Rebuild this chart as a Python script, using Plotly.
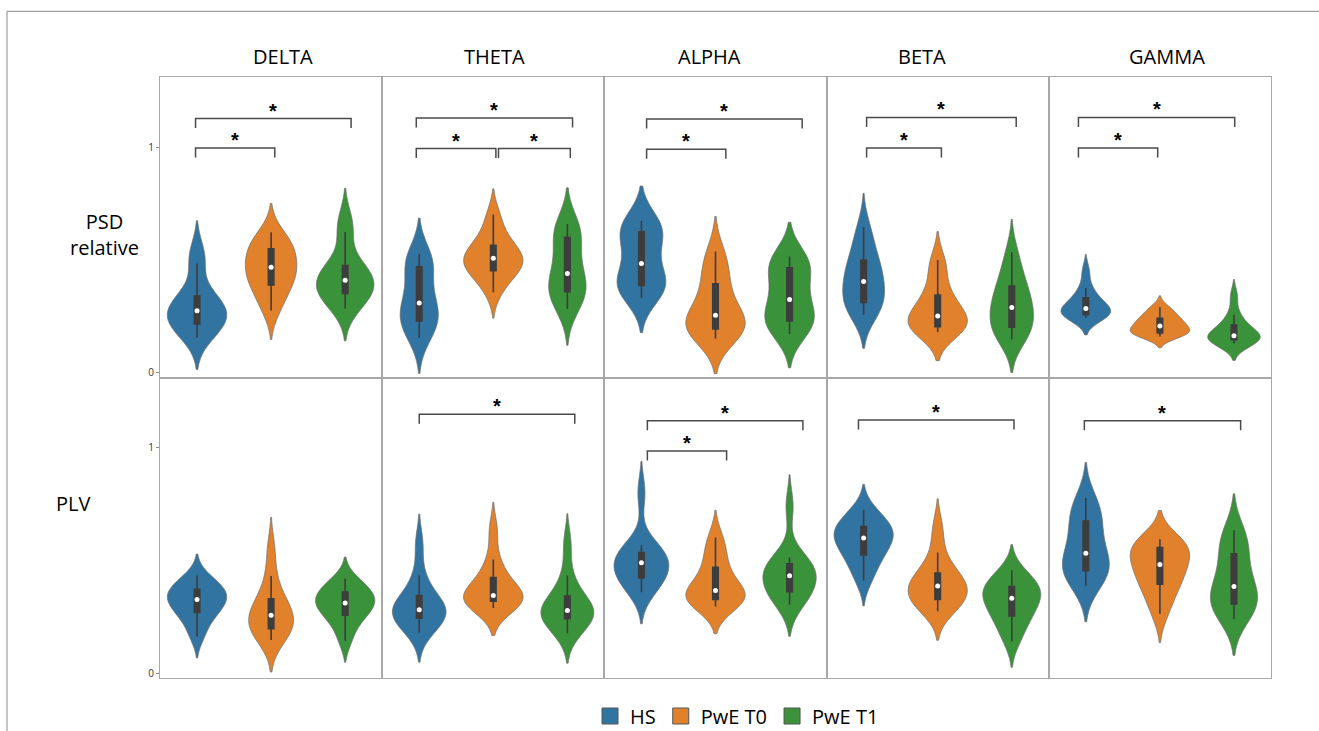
import numpy as np
import plotly.graph_objects as go
from plotly.subplots import make_subplots

BANDS = ["DELTA", "THETA", "ALPHA", "BETA", "GAMMA"]
GROUPS = ["HS", "PwE T0", "PwE T1"]
ROW_LABELS = ["PSD<br>relative", "PLV"]
Y_TICKS = [0, 1]

# ---- PSD relative (row 1) ----
PSD_DELTA_HS = [0.155, 0.19, 0.21, 0.225, 0.25, 0.27, 0.28, 0.30, 0.325, 0.355, 0.485, 0.535]
PSD_DELTA_T0 = [0.276, 0.33, 0.38, 0.40, 0.43, 0.455, 0.48, 0.50, 0.54, 0.56, 0.58, 0.623]
PSD_DELTA_T1 = [0.285, 0.32, 0.345, 0.36, 0.38, 0.40, 0.42, 0.44, 0.46, 0.49, 0.624, 0.675]
PSD_THETA_HS = [0.155, 0.19, 0.22, 0.24, 0.27, 0.29, 0.33, 0.37, 0.46, 0.48, 0.50, 0.528]
PSD_THETA_T0 = [0.357, 0.42, 0.445, 0.46, 0.48, 0.50, 0.515, 0.53, 0.55, 0.58, 0.63, 0.701]
PSD_THETA_T1 = [0.283, 0.32, 0.35, 0.37, 0.39, 0.42, 0.46, 0.51, 0.58, 0.62, 0.64, 0.659]
PSD_ALPHA_HS = [0.332, 0.36, 0.38, 0.395, 0.42, 0.45, 0.52, 0.57, 0.61, 0.64, 0.66, 0.674]
PSD_ALPHA_T0 = [0.152, 0.175, 0.19, 0.20, 0.22, 0.245, 0.265, 0.30, 0.37, 0.42, 0.48, 0.538]
PSD_ALPHA_T1 = [0.174, 0.20, 0.22, 0.24, 0.27, 0.30, 0.35, 0.40, 0.45, 0.48, 0.50, 0.516]
PSD_BETA_HS = [0.258, 0.28, 0.30, 0.325, 0.36, 0.39, 0.42, 0.45, 0.48, 0.52, 0.58, 0.646]
PSD_BETA_T0 = [0.181, 0.195, 0.20, 0.21, 0.225, 0.24, 0.265, 0.29, 0.33, 0.36, 0.45, 0.50]
PSD_BETA_T1 = [0.148, 0.17, 0.19, 0.215, 0.25, 0.28, 0.30, 0.33, 0.37, 0.40, 0.46, 0.534]
PSD_GAMMA_HS = [0.243, 0.25, 0.255, 0.262, 0.27, 0.28, 0.29, 0.30, 0.32, 0.345, 0.376, 0.45]
PSD_GAMMA_T0 = [0.162, 0.17, 0.175, 0.18, 0.19, 0.20, 0.215, 0.225, 0.235, 0.25, 0.27, 0.291]
PSD_GAMMA_T1 = [0.13, 0.138, 0.145, 0.15, 0.155, 0.16, 0.17, 0.18, 0.20, 0.225, 0.258, 0.34]

# ---- PLV (row 2) ----
PLV_DELTA_HS = [0.163, 0.22, 0.26, 0.28, 0.30, 0.32, 0.335, 0.35, 0.365, 0.38, 0.40, 0.434]
PLV_DELTA_T0 = [0.148, 0.17, 0.19, 0.207, 0.225, 0.245, 0.27, 0.29, 0.31, 0.35, 0.431, 0.55]
PLV_DELTA_T1 = [0.145, 0.21, 0.245, 0.27, 0.29, 0.305, 0.32, 0.335, 0.35, 0.37, 0.39, 0.42]
PLV_THETA_HS = [0.181, 0.21, 0.235, 0.255, 0.265, 0.275, 0.29, 0.305, 0.33, 0.36, 0.434, 0.575]
PLV_THETA_T0 = [0.29, 0.30, 0.315, 0.325, 0.335, 0.34, 0.35, 0.37, 0.41, 0.44, 0.505, 0.635]
PLV_THETA_T1 = [0.178, 0.205, 0.23, 0.255, 0.265, 0.272, 0.285, 0.30, 0.325, 0.36, 0.434, 0.575]
PLV_ALPHA_HS = [0.359, 0.39, 0.415, 0.43, 0.45, 0.48, 0.50, 0.51, 0.525, 0.545, 0.568, 0.80]
PLV_ALPHA_T0 = [0.297, 0.31, 0.32, 0.335, 0.345, 0.36, 0.375, 0.40, 0.45, 0.49, 0.55, 0.602]
PLV_ALPHA_T1 = [0.304, 0.33, 0.35, 0.375, 0.40, 0.42, 0.445, 0.46, 0.475, 0.495, 0.513, 0.74]
PLV_BETA_HS = [0.411, 0.47, 0.51, 0.54, 0.565, 0.59, 0.61, 0.625, 0.64, 0.66, 0.69, 0.725]
PLV_BETA_T0 = [0.275, 0.30, 0.32, 0.335, 0.355, 0.375, 0.40, 0.41, 0.43, 0.46, 0.535, 0.645]
PLV_BETA_T1 = [0.141, 0.20, 0.24, 0.27, 0.295, 0.32, 0.345, 0.36, 0.375, 0.395, 0.42, 0.457]
PLV_GAMMA_HS = [0.386, 0.42, 0.445, 0.465, 0.49, 0.515, 0.55, 0.60, 0.66, 0.69, 0.73, 0.777]
PLV_GAMMA_T0 = [0.264, 0.33, 0.38, 0.41, 0.44, 0.47, 0.495, 0.52, 0.55, 0.565, 0.58, 0.594]
PLV_GAMMA_T1 = [0.241, 0.27, 0.30, 0.315, 0.34, 0.37, 0.40, 0.44, 0.51, 0.55, 0.60, 0.634]

DATA = [
    [[PSD_DELTA_HS, PSD_DELTA_T0, PSD_DELTA_T1],
     [PSD_THETA_HS, PSD_THETA_T0, PSD_THETA_T1],
     [PSD_ALPHA_HS, PSD_ALPHA_T0, PSD_ALPHA_T1],
     [PSD_BETA_HS, PSD_BETA_T0, PSD_BETA_T1],
     [PSD_GAMMA_HS, PSD_GAMMA_T0, PSD_GAMMA_T1]],
    [[PLV_DELTA_HS, PLV_DELTA_T0, PLV_DELTA_T1],
     [PLV_THETA_HS, PLV_THETA_T0, PLV_THETA_T1],
     [PLV_ALPHA_HS, PLV_ALPHA_T0, PLV_ALPHA_T1],
     [PLV_BETA_HS, PLV_BETA_T0, PLV_BETA_T1],
     [PLV_GAMMA_HS, PLV_GAMMA_T0, PLV_GAMMA_T1]],
]

# significance brackets: (row, col, x_start, x_end, level)  -- all marked "*"
SIG_BRACKETS = [
    (0, 0, -0.02, 2.08, 1.126), (0, 0, -0.02, 1.05, 0.996),
    (0, 1, -0.04, 2.07, 1.128), (0, 1, -0.04, 1.035, 0.993), (0, 1, 1.07, 2.04, 0.993),
    (0, 2, 0.07, 2.17, 1.124), (0, 2, 0.07, 1.14, 0.990),
    (0, 3, 0.04, 2.06, 1.131), (0, 3, 0.04, 1.05, 0.996),
    (0, 4, -0.10, 2.01, 1.131), (0, 4, -0.10, 0.97, 0.996),
    (1, 1, 0.00, 2.10, 1.147),
    (1, 2, 0.08, 2.18, 1.119), (1, 2, 0.08, 1.15, 0.985),
    (1, 3, -0.07, 2.03, 1.122),
    (1, 4, -0.02, 2.09, 1.119),
]

COLORS = ["#3274A1", "#E1812C", "#3A923A"]
EDGE = "#6e6e6e"
BOXC = "#3d3d3d"
FRAME = "#a8a8a8"
FONT = "Open Sans"

W, H = 1319, 731
ML, MR, MT, MB = 160, 48, 77, 53
COL_PX = (W - ML - MR) / 5.0
UNIT_PX = COL_PX / 3.0
Y_RANGE = [-0.02, 1.31]


def kde_info(vals):
    v = np.asarray(vals, dtype=float)
    n = len(v)
    h = v.std(ddof=1) * n ** (-0.2)  # Scott's rule
    g = np.linspace(v.min() - 2 * h, v.max() + 2 * h, 500)
    d = np.exp(-0.5 * ((g[:, None] - v[None, :]) / h) ** 2).sum(1) / (n * h * np.sqrt(2 * np.pi))
    return d.max(), h


fig = make_subplots(rows=2, cols=5, horizontal_spacing=0, vertical_spacing=0)

for r in range(2):
    for c in range(5):
        sets = DATA[r][c]
        infos = [kde_info(v) for v in sets]
        dref = max(i[0] for i in infos)
        for g, vals in enumerate(sets):
            dmax, h = infos[g]
            w = 0.8 * dmax / dref
            fig.add_trace(go.Violin(
                x0=g, y=vals, name=GROUPS[g], width=w, bandwidth=h,
                spanmode="soft", points=False, scalemode="width",
                fillcolor=COLORS[g], line=dict(color=EDGE, width=0.7),
                opacity=1,
                box=dict(visible=True, width=(5.5 / UNIT_PX) / w, fillcolor=BOXC,
                         line=dict(color=BOXC, width=1.6)),
                meanline=dict(visible=False),
                showlegend=False, hoverinfo="skip"), row=r + 1, col=c + 1)
            fig.add_trace(go.Scatter(
                x=[g], y=[float(np.median(vals))], mode="markers",
                marker=dict(color="white", size=5, line=dict(width=0)),
                showlegend=False, hoverinfo="skip"), row=r + 1, col=c + 1)

# legend entries
for g, name in enumerate(GROUPS):
    fig.add_trace(go.Scatter(
        x=[None], y=[None], mode="markers", name=name,
        marker=dict(symbol="square", size=18, color=COLORS[g], line=dict(color="#555555", width=1)),
        showlegend=True), row=1, col=1)

fig.update_xaxes(range=[-0.5, 2.5], type="linear", showticklabels=False, showgrid=False,
                 zeroline=False, showline=True, mirror=True, linecolor=FRAME, linewidth=1,
                 ticks="")
fig.update_yaxes(range=Y_RANGE, showgrid=False, zeroline=False, showline=True, mirror=True,
                 linecolor=FRAME, linewidth=1, tickvals=Y_TICKS, showticklabels=False, ticks="")
for r in (1, 2):
    fig.update_yaxes(showticklabels=True, ticks="outside", ticklen=3, tickcolor="#888888",
                     tickwidth=1, tickfont=dict(size=10, color="#333333", family=FONT),
                     row=r, col=1)

shapes = []
annotations = []
for (r, c, x0, x1, lvl) in SIG_BRACKETS:
    idx = r * 5 + c + 1
    xr = "x" if idx == 1 else f"x{idx}"
    yr = "y" if idx == 1 else f"y{idx}"
    tick = 0.042
    shapes.append(dict(type="path", xref=xr, yref=yr,
                       path=f"M {x0},{lvl - tick} L {x0},{lvl} L {x1},{lvl} L {x1},{lvl - tick}",
                       line=dict(color="#4a4a4a", width=1.5)))
    annotations.append(dict(x=(x0 + x1) / 2, y=lvl, xref=xr, yref=yr, text="<b>*</b>",
                            showarrow=False, yanchor="middle", yshift=8,
                            font=dict(size=20, color="black", family="Liberation Sans")))

# outer frame of the figure
shapes.append(dict(type="line", xref="paper", yref="paper",
                   x0=(7 - ML) / (W - ML - MR), x1=(7 - ML) / (W - ML - MR),
                   y0=(H - MB - 740) / (H - MT - MB), y1=(H - MB - 11.3) / (H - MT - MB),
                   line=dict(color="#8a8a8a", width=1)))
shapes.append(dict(type="line", xref="paper", yref="paper",
                   x0=(7 - ML) / (W - ML - MR), x1=(1330 - ML) / (W - ML - MR),
                   y0=(H - MB - 11.3) / (H - MT - MB), y1=(H - MB - 11.3) / (H - MT - MB),
                   line=dict(color="#8a8a8a", width=1)))


def px_to_paper(px, py):
    return (px - ML) / (W - ML - MR), (H - MB - py) / (H - MT - MB)


TITLE_PX = [282.5, 494, 709, 922, 1167]
for band, tx in zip(BANDS, TITLE_PX):
    x, y = px_to_paper(tx, 56)
    annotations.append(dict(x=x, y=y, xref="paper", yref="paper", text=band, showarrow=False,
                            xanchor="center", yanchor="middle",
                            font=dict(size=20, color="black", family=FONT)))

for lbl, (lx, ly) in zip(ROW_LABELS, [(104, 234.5), (73, 503)]):
    x, y = px_to_paper(lx, ly)
    annotations.append(dict(x=x, y=y, xref="paper", yref="paper", text=lbl, showarrow=False,
                            xanchor="center", yanchor="middle", align="center",
                            font=dict(size=20, color="black", family=FONT)))

lgx, lgy = px_to_paper(590, 716)
fig.update_layout(
    width=W, height=H,
    margin=dict(l=ML, r=MR, t=MT, b=MB, autoexpand=False),
    plot_bgcolor="white", paper_bgcolor="white",
    violinmode="overlay", violingap=0, violingroupgap=0,
    shapes=shapes, annotations=annotations,
    showlegend=True,
    legend=dict(orientation="h", x=lgx, y=lgy, xanchor="left", yanchor="middle",
                font=dict(size=20, color="black", family=FONT), itemsizing="trace",
                bgcolor="rgba(0,0,0,0)", borderwidth=0),
)

fig.write_html("out.html", config={"displayModeBar": False},
               post_script="document.body.style.margin='0px';")
